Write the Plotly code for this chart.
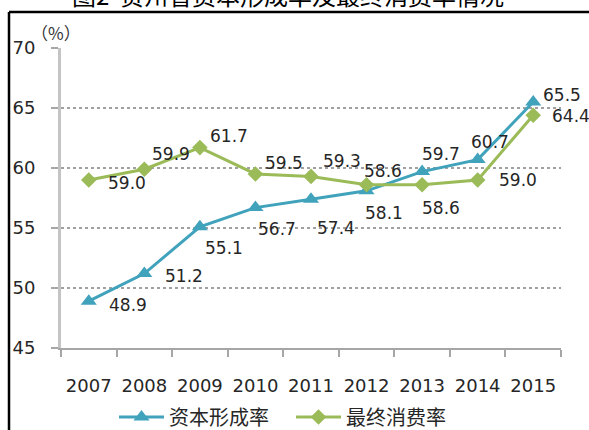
import plotly.graph_objects as go

# ---- data ----
years = ["2007", "2008", "2009", "2010", "2011", "2012", "2013", "2014", "2015"]
capital_rate = [48.9, 51.2, 55.1, 56.7, 57.4, 58.1, 59.7, 60.7, 65.5]
consumption_rate = [59.0, 59.9, 61.7, 59.5, 59.3, 58.6, 58.6, 59.0, 64.4]
y_ticks = [45, 50, 55, 60, 65, 70]
series_names = ["资本形成率", "最终消费率"]
title_text = "图2  贵州省资本形成率及最终消费率情况"
unit_text = "（%）"

# ---- label placement (pixel offsets, style only) ----
cap_offsets = [(39, 4), (40, 2), (24, 21), (22, 21), (25, 29), (17, 22), (19, -18), (12, -18), (29, -7)]
con_offsets = [(38, 3), (27, -15), (29, -12), (29, -11), (31, -15), (16, -14), (19, 23), (40, 0), (38, 1)]

BLUE = "#40A2BB"
GREEN = "#9BBB59"
TXT = "#262626"
W, H = 589, 430
ML, MR, MT, MB = 61, 28, 48, 82
PW, PH = W - ML - MR, H - MT - MB


def px_x(p):
    return (p - ML) / PW


def px_y(p):
    return (H - MB - p) / PH


fig = go.Figure()
fig.add_trace(go.Scatter(
    x=years, y=capital_rate, name=series_names[0], mode="lines+markers",
    line=dict(color=BLUE, width=3),
    marker=dict(symbol="triangle-up", size=14, color=BLUE),
    legend="legend",
))
fig.add_trace(go.Scatter(
    x=years, y=consumption_rate, name=series_names[1], mode="lines+markers",
    line=dict(color=GREEN, width=3),
    marker=dict(symbol="diamond", size=12, color=GREEN),
    legend="legend2",
))

annotations = []
for vals, offs in ((capital_rate, cap_offsets), (consumption_rate, con_offsets)):
    for i, (v, (dx, dy)) in enumerate(zip(vals, offs)):
        annotations.append(dict(
            x=i, y=v, xref="x", yref="y", text=f"{v:.1f}", showarrow=False,
            xshift=dx, yshift=-dy,
            font=dict(family="DejaVu Sans", size=17, color=TXT),
        ))

annotations.append(dict(
    x=px_x(288), y=px_y(-5), xref="paper", yref="paper", text=title_text,
    showarrow=False, xanchor="center", yanchor="middle",
    font=dict(family="Noto Sans CJK SC", size=24, color="#000000"),
))
annotations.append(dict(
    x=px_x(56), y=px_y(32), xref="paper", yref="paper", text=unit_text,
    showarrow=False, xanchor="center", yanchor="middle",
    font=dict(family="Noto Sans CJK SC", size=17, color="#333333"),
))

shapes = [
    dict(type="line", xref="paper", yref="paper", x0=px_x(9), x1=px_x(640),
         y0=px_y(12), y1=px_y(12), line=dict(color="#000000", width=2.5)),
    dict(type="line", xref="paper", yref="paper", x0=px_x(9), x1=px_x(9),
         y0=px_y(12), y1=px_y(480), line=dict(color="#000000", width=2.5)),
]

legend_style = dict(
    orientation="h", xref="container", yref="container",
    xanchor="left", y=1 - 417 / H, yanchor="middle",
    font=dict(family="Noto Sans CJK SC", size=20, color=TXT),
    itemwidth=45, bgcolor="rgba(0,0,0,0)",
)

fig.update_layout(
    width=W, height=H,
    margin=dict(l=ML, r=MR, t=MT, b=MB, autoexpand=False),
    paper_bgcolor="white", plot_bgcolor="white",
    font=dict(family="DejaVu Sans", color=TXT),
    showlegend=True,
    legend=dict(legend_style, x=114 / W),
    legend2=dict(legend_style, x=291 / W),
    annotations=annotations,
    shapes=shapes,
)

fig.update_xaxes(
    type="category", range=[-0.5, len(years) - 0.5], showgrid=False, automargin=False,
    showline=True, linecolor="#A6A6A6", linewidth=2,
    ticks="outside", tickson="boundaries", ticklen=7, tickcolor="#A6A6A6", tickwidth=2,
    tickfont=dict(family="DejaVu Sans", size=18, color=TXT), ticklabelstandoff=20,
    tickangle=0, zeroline=False,
)
fig.update_yaxes(
    range=[45, 70], tickvals=y_ticks, ticktext=[str(t) for t in y_ticks], automargin=False,
    showgrid=True, gridcolor="#A0A0A0", gridwidth=1.5, griddash="dot",
    showline=True, linecolor="#C4C4C4", linewidth=3,
    ticks="outside", ticklen=7, tickcolor="#A6A6A6", tickwidth=2,
    tickfont=dict(family="DejaVu Sans", size=18, color=TXT), ticklabelstandoff=12,
    zeroline=False,
)

fig.write_html(
    "out.html",
    config={"displayModeBar": False},
    post_script="document.body.style.margin='0';document.body.style.overflow='hidden';",
)
